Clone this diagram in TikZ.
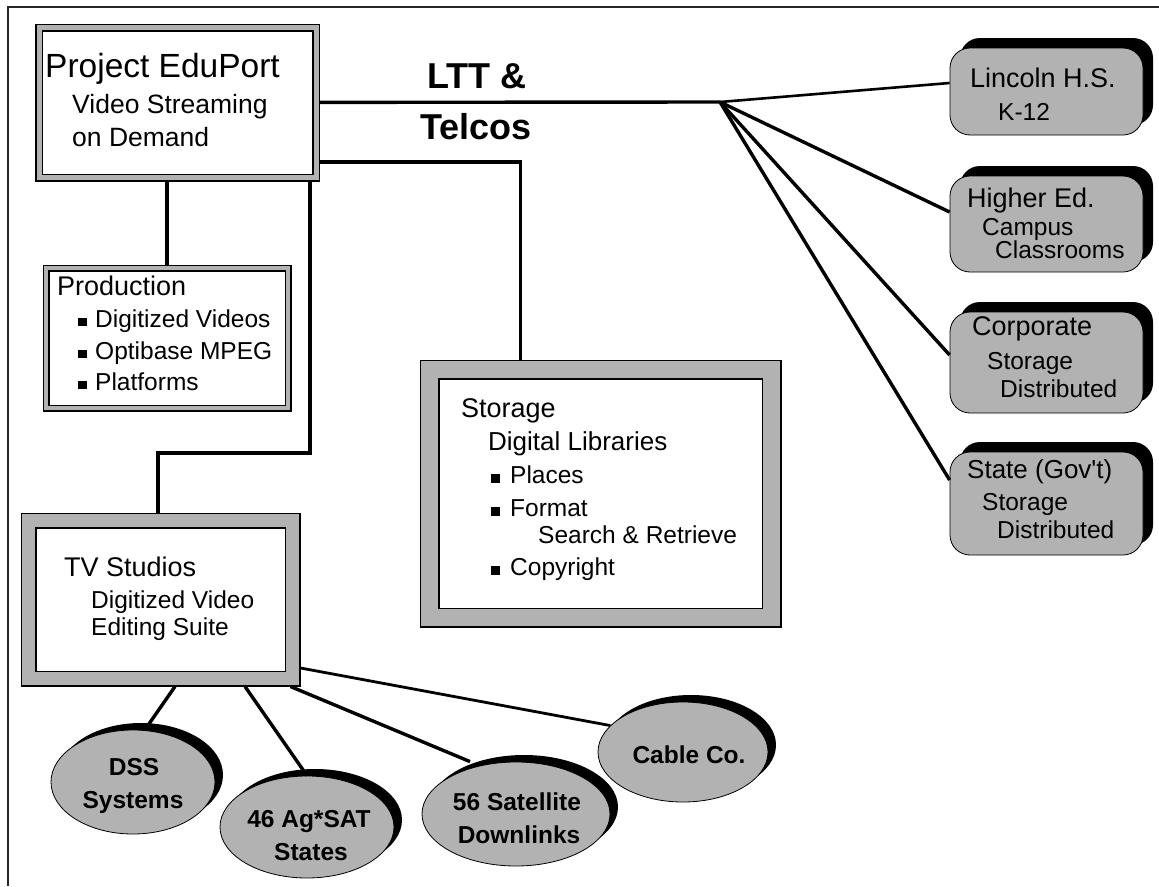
\documentclass[tikz,border=0pt]{standalone}
\usepackage{fontspec}
\setmainfont{Liberation Sans}
\usetikzlibrary{shadows,shapes.geometric}
\definecolor{bandgray}{RGB}{178,178,178}
\begin{document}
\begin{tikzpicture}[x=1pt,y=-1pt,
  frame/.style={draw=black!85, line width=1.2pt},
  conn/.style={draw=black, line width=3.4pt},
  dbox/.style={draw=black, line width=1.5pt, double=bandgray, fill=white, inner sep=0pt, anchor=center},
  rbox/.style={draw=black, line width=0.8pt, fill=bandgray, rounded corners=20pt, minimum width=193pt, inner sep=0pt,
     drop shadow={shadow xshift=10pt, shadow yshift=10pt, fill=black, opacity=1}},
  oval/.style={ellipse, draw=black, line width=0.8pt, fill=bandgray, inner sep=0pt,
     drop shadow={shadow xshift=8pt, shadow yshift=7pt, fill=black, opacity=1}},
  tl/.style={anchor=base west, inner sep=0pt, font=\fontsize{24.5}{29}\selectfont},
  hd/.style={anchor=base west, inner sep=0pt, font=\fontsize{27}{32}\selectfont},
  bl/.style={anchor=base, inner sep=0pt, font=\bfseries\fontsize{24.5}{29}\selectfont},
]
\useasboundingbox (0,0) rectangle (1159,886);
\fill[white] (0,0) rectangle (1159,886);
\draw[frame] (1159,7) -- (8,7) -- (8,886);

% boxes
\node[dbox, double distance=5pt, minimum width=277pt, minimum height=150pt, outer sep=4pt] (ep) at (177.5,102.5) {};
\node[dbox, double distance=4pt, minimum width=242pt, minimum height=140pt, outer sep=3.5pt] (pr) at (167,338) {};
\node[dbox, double distance=17pt, minimum width=342pt, minimum height=248pt, outer sep=10pt] (st) at (600.5,493.5) {};
\node[dbox, double distance=13pt, minimum width=264pt, minimum height=158pt, outer sep=8pt] (tv) at (160.5,599.5) {};

\node[rbox, minimum height=87pt] (li) at (1046.5,91.5) {};
\node[rbox, minimum height=96pt] (he) at (1046.5,224) {};
\node[rbox, minimum height=101pt] (co) at (1046.5,362.5) {};
\node[rbox, minimum height=103pt] (sg) at (1046.5,503.5) {};

\node[oval, minimum width=164pt, minimum height=104pt] (ds) at (133,782) {};
\node[oval, minimum width=174pt, minimum height=102pt] (ag) at (307,827) {};
\node[oval, minimum width=188pt, minimum height=104pt] (sa) at (516,814) {};
\node[oval, minimum width=170pt, minimum height=100pt] (cb) at (683,752) {};

% connectors
\coordinate (hub) at (720,102);
\draw[conn] (ep) -- (hub);
\draw[conn, line width=2.6pt] (hub) -- ([yshift=8.5pt]li.west);
\draw[conn] (hub) -- ([yshift=12pt]he.west);
\draw[conn] (hub) -- ([yshift=7.5pt]co.west);
\draw[conn] (hub) -- ([yshift=23.5pt]sg.west);

\coordinate (k1) at (520.5,162);
\draw[conn] (ep.east |- k1) -- (k1) -- (k1 |- st.north);
\draw[conn] (pr.north) -- (pr.north |- ep.south);
\coordinate (k2) at (310,453);
\coordinate (k3) at (158,453);
\draw[conn] (k2 |- ep.south) -- (k2) -- (k3) -- (k3 |- tv.north);

\draw[conn] ([xshift=14.5pt]tv.south) -- ([xshift=12pt]ds.north);
\draw[conn] ([xshift=84.5pt]tv.south) -- (ag.north);
\draw[conn] ([xshift=-10pt]tv.south east) -- ([xshift=-46pt]sa.north);
\draw[conn, line width=2.8pt] ([yshift=-68.5pt]tv.east) -- (cb.160);

% LTT & Telcos
\node[anchor=base, inner sep=0pt, font=\bfseries\fontsize{36}{40}\selectfont] (lt1) at (477,88) {LTT \&};
\node[anchor=base, inner sep=0pt, font=\bfseries\fontsize{36}{40}\selectfont] (lt2) at (476,139) {Telcos};

% EduPort text
\node[tl, font=\fontsize{33.5}{38}\selectfont] (e1) at (45,77) {Project EduPort};
\node[tl, font=\fontsize{26.5}{30}\selectfont] (e2) at (72,113) {Video Streaming};
\node[tl, font=\fontsize{26.5}{30}\selectfont] (e3) at (72,146) {on Demand};

% Production text
\node[hd] (p1) at (57,295) {Production};
\node[tl] (p2) at (78,327) {\rule[1.5pt]{9pt}{8pt}\hspace{8pt}Digitized Videos};
\node[tl] (p3) at (78,359) {\rule[1.5pt]{9pt}{8pt}\hspace{8pt}Optibase MPEG};
\node[tl] (p4) at (78,390) {\rule[1.5pt]{9pt}{8pt}\hspace{8pt}Platforms};

% Storage text
\node[hd] (s1) at (461,417) {Storage};
\node[tl, font=\fontsize{26}{30}\selectfont] (s2) at (488,450) {Digital Libraries};
\node[tl] (s3) at (491,483) {\rule[0.5pt]{9pt}{8.5pt}\hspace{10pt}Places};
\node[tl] (s4) at (491,516) {\rule[0.5pt]{9pt}{8.5pt}\hspace{10pt}Format};
\node[tl] (s5) at (538,543) {Search \& Retrieve};
\node[tl] (s6) at (491,575) {\rule[0.5pt]{9pt}{8.5pt}\hspace{10pt}Copyright};

% TV text
\node[hd] (v1) at (64,576) {TV Studios};
\node[tl] (v2) at (91,608) {Digitized Video};
\node[tl] (v3) at (91,635) {Editing Suite};

% right box texts
\node[hd] (l1) at (970,87) {Lincoln H.S.};
\node[tl] (l2) at (998,120) {K-12};
\node[hd] (h1) at (967,207) {Higher Ed.};
\node[tl] (h2) at (982,235) {Campus};
\node[tl] (h3) at (995,258) {Classrooms};
\node[hd] (c1) at (972,335) {Corporate};
\node[tl] (c2) at (987,369) {Storage};
\node[tl] (c3) at (1000,397) {Distributed};
\node[hd, font=\fontsize{26}{30}\selectfont] (g1) at (967,478) {State (Gov\textquotesingle t)};
\node[tl] (g2) at (982,510) {Storage};
\node[tl] (g3) at (997,538) {Distributed};

% ellipse texts
\node[bl] (d1) at (134,775) {DSS};
\node[bl] (d2) at (133,808) {Systems};
\node[bl] (a1) at (309,827) {46 Ag*SAT};
\node[bl] (a2) at (311,860) {States};
\node[bl] (n1) at (517,810) {56 Satellite};
\node[bl] (n2) at (519,843) {Downlinks};
\node[bl] (b1) at (689,763) {Cable Co.};
\end{tikzpicture}
\end{document}
